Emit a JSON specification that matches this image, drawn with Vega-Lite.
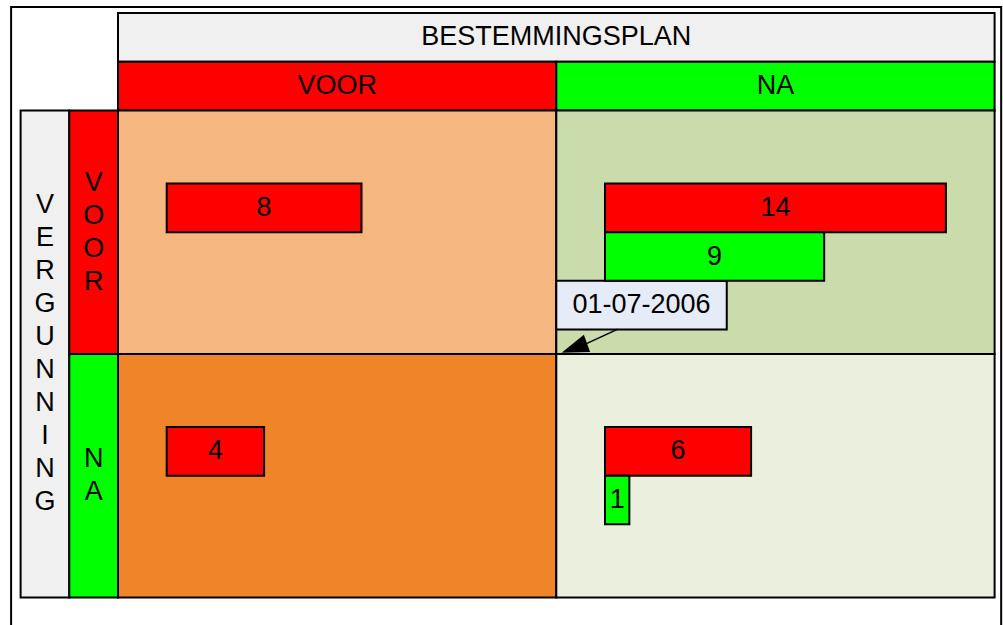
{
  "$schema": "https://vega.github.io/schema/vega-lite/v6.json",
  "width": 1003,
  "height": 625,
  "padding": 0,
  "autosize": {"type": "none"},
  "config": {"view": {"stroke": null}, "text": {"font": "Liberation Sans", "color": "#000000"}},
  "datasets": {
    "balken": [
      {"vergunning": "VOOR", "bestemmingsplan": "VOOR", "kleur": "rood", "aantal": 8},
      {"vergunning": "VOOR", "bestemmingsplan": "NA", "kleur": "rood", "aantal": 14},
      {"vergunning": "VOOR", "bestemmingsplan": "NA", "kleur": "groen", "aantal": 9},
      {"vergunning": "NA", "bestemmingsplan": "VOOR", "kleur": "rood", "aantal": 4},
      {"vergunning": "NA", "bestemmingsplan": "NA", "kleur": "rood", "aantal": 6},
      {"vergunning": "NA", "bestemmingsplan": "NA", "kleur": "groen", "aantal": 1}
    ],
    "vakken": [
      {"deel": "rand", "x0": -4.39, "x1": 36.27, "y0": -0.25, "y1": 26.5},
      {"deel": "kop", "x0": 0, "x1": 36, "y0": 0, "y1": 2},
      {"deel": "rood", "x0": 0, "x1": 18, "y0": 2, "y1": 4},
      {"deel": "groen", "x0": 18, "x1": 36, "y0": 2, "y1": 4},
      {"deel": "grijs", "x0": -4, "x1": -2, "y0": 4, "y1": 24},
      {"deel": "rood", "x0": -2, "x1": 0, "y0": 4, "y1": 14},
      {"deel": "groen", "x0": -2, "x1": 0, "y0": 14, "y1": 24},
      {"deel": "q_vv", "x0": 0, "x1": 18, "y0": 4, "y1": 14},
      {"deel": "q_vn", "x0": 18, "x1": 36, "y0": 4, "y1": 14},
      {"deel": "q_nv", "x0": 0, "x1": 18, "y0": 14, "y1": 24},
      {"deel": "q_nn", "x0": 18, "x1": 36, "y0": 14, "y1": 24},
      {"deel": "label", "x0": 18, "x1": 25, "y0": 11, "y1": 13}
    ],
    "teksten": [
      {"soort": "kop", "tekst": "BESTEMMINGSPLAN", "x": 18, "y": 1},
      {"soort": "kop", "tekst": "VOOR", "x": 9, "y": 3},
      {"soort": "kop", "tekst": "NA", "x": 27, "y": 3},
      {"soort": "vert10", "tekst": "V\nE\nR\nG\nU\nN\nN\nI\nN\nG", "x": -3, "y": 14},
      {"soort": "vert4", "tekst": "V\nO\nO\nR", "x": -1, "y": 9},
      {"soort": "vert2", "tekst": "N\nA", "x": -1, "y": 19},
      {"soort": "datum", "tekst": "01-07-2006", "x": 21.5, "y": 12}
    ],
    "pijl": [{"x": 20.53, "y": 12.98}, {"x": 19.26, "y": 13.57}],
    "pijlpunt": [{"x": 18.74, "y": 13.76}]
  },
  "layer": [
    {
      "layer": [
        {
          "data": {"name": "vakken"},
          "mark": {"type": "rect", "stroke": "#000000", "strokeWidth": 2, "clip": true},
          "encoding": {
            "x": {"field": "x0", "type": "quantitative", "scale": {"domain": [-4.846, 36.345], "nice": false, "zero": false}, "axis": null},
            "x2": {"field": "x1"},
            "y": {"field": "y0", "type": "quantitative", "scale": {"domain": [-0.534, 25.133], "reverse": true, "nice": false, "zero": false}, "axis": null},
            "y2": {"field": "y1"},
            "color": {
              "field": "deel", "type": "nominal",
              "scale": {
                "domain": ["rand", "kop", "grijs", "rood", "groen", "q_vv", "q_vn", "q_nv", "q_nn", "label"],
                "range": ["#ffffff", "#f0f0f0", "#f0f0f0", "#ff0000", "#00ff00", "#f6b67f", "#cadbac", "#f08428", "#eaefde", "#e6ecf7"]
              },
              "legend": null
            }
          }
        },
        {
          "data": {"name": "teksten"},
          "transform": [{"filter": "datum.soort === 'kop'"}],
          "mark": {"type": "text", "fontSize": 27, "align": "center", "baseline": "middle"},
          "encoding": {
            "x": {"field": "x", "type": "quantitative", "scale": {"domain": [-4.846, 36.345], "nice": false, "zero": false}, "axis": null},
            "y": {"field": "y", "type": "quantitative", "scale": {"domain": [-0.534, 25.133], "reverse": true, "nice": false, "zero": false}, "axis": null},
            "text": {"field": "tekst"}
          }
        },
        {
          "data": {"name": "teksten"},
          "transform": [{"filter": "datum.soort === 'vert10'"}],
          "mark": {"type": "text", "fontSize": 27, "align": "center", "baseline": "middle", "lineBreak": "\n", "lineHeight": 33, "dy": -148.5},
          "encoding": {
            "x": {"field": "x", "type": "quantitative", "scale": {"domain": [-4.846, 36.345], "nice": false, "zero": false}, "axis": null},
            "y": {"field": "y", "type": "quantitative", "scale": {"domain": [-0.534, 25.133], "reverse": true, "nice": false, "zero": false}, "axis": null},
            "text": {"field": "tekst"}
          }
        },
        {
          "data": {"name": "teksten"},
          "transform": [{"filter": "datum.soort === 'vert4'"}],
          "mark": {"type": "text", "fontSize": 27, "align": "center", "baseline": "middle", "lineBreak": "\n", "lineHeight": 33, "dy": -49.5},
          "encoding": {
            "x": {"field": "x", "type": "quantitative", "scale": {"domain": [-4.846, 36.345], "nice": false, "zero": false}, "axis": null},
            "y": {"field": "y", "type": "quantitative", "scale": {"domain": [-0.534, 25.133], "reverse": true, "nice": false, "zero": false}, "axis": null},
            "text": {"field": "tekst"}
          }
        },
        {
          "data": {"name": "teksten"},
          "transform": [{"filter": "datum.soort === 'vert2'"}],
          "mark": {"type": "text", "fontSize": 27, "align": "center", "baseline": "middle", "lineBreak": "\n", "lineHeight": 33, "dy": -16.5},
          "encoding": {
            "x": {"field": "x", "type": "quantitative", "scale": {"domain": [-4.846, 36.345], "nice": false, "zero": false}, "axis": null},
            "y": {"field": "y", "type": "quantitative", "scale": {"domain": [-0.534, 25.133], "reverse": true, "nice": false, "zero": false}, "axis": null},
            "text": {"field": "tekst"}
          }
        },
        {
          "data": {"name": "teksten"},
          "transform": [{"filter": "datum.soort === 'datum'"}],
          "mark": {"type": "text", "fontSize": 27, "align": "center", "baseline": "middle"},
          "encoding": {
            "x": {"field": "x", "type": "quantitative", "scale": {"domain": [-4.846, 36.345], "nice": false, "zero": false}, "axis": null},
            "y": {"field": "y", "type": "quantitative", "scale": {"domain": [-0.534, 25.133], "reverse": true, "nice": false, "zero": false}, "axis": null},
            "text": {"field": "tekst"}
          }
        },
        {
          "data": {"name": "pijl"},
          "mark": {"type": "line", "stroke": "#000000", "strokeWidth": 1.5},
          "encoding": {
            "x": {"field": "x", "type": "quantitative", "scale": {"domain": [-4.846, 36.345], "nice": false, "zero": false}, "axis": null},
            "y": {"field": "y", "type": "quantitative", "scale": {"domain": [-0.534, 25.133], "reverse": true, "nice": false, "zero": false}, "axis": null}
          }
        },
        {
          "data": {"name": "pijlpunt"},
          "mark": {"type": "point", "shape": "M0,-1L0.68,1L-0.68,1Z", "filled": true, "fill": "#000000", "stroke": null, "opacity": 1, "size": 729, "angle": 250},
          "encoding": {
            "x": {"field": "x", "type": "quantitative", "scale": {"domain": [-4.846, 36.345], "nice": false, "zero": false}, "axis": null},
            "y": {"field": "y", "type": "quantitative", "scale": {"domain": [-0.534, 25.133], "reverse": true, "nice": false, "zero": false}, "axis": null}
          }
        }
      ]
    },
    {
      "data": {"name": "balken"},
      "layer": [
        {
          "transform": [{"filter": "datum.bestemmingsplan === 'VOOR'"}],
          "mark": {"type": "bar", "stroke": "#000000", "strokeWidth": 2},
          "encoding": {
            "x": {"field": "aantal", "type": "quantitative", "scale": {"domain": [-6.846, 34.345], "nice": false, "zero": false}, "axis": null},
            "x2": {"datum": 0},
            "y": {"field": "vergunning", "type": "nominal", "scale": {"domain": ["VOOR", "NA"], "paddingInner": 0, "paddingOuter": 0.28337, "align": 0.8}, "axis": null},
            "yOffset": {"field": "kleur", "type": "nominal", "scale": {"domain": ["boven", "rood", "groen", "onder"], "paddingInner": 0, "paddingOuter": 0.5}},
            "color": {"field": "kleur", "type": "nominal", "scale": {"domain": ["rood", "groen"], "range": ["#ff0000", "#00ff00"]}, "legend": null}
          }
        },
        {
          "transform": [{"filter": "datum.bestemmingsplan === 'VOOR'"}],
          "mark": {"type": "text", "fontSize": 27, "align": "center", "baseline": "middle"},
          "encoding": {
            "x": {"field": "aantal", "type": "quantitative", "scale": {"domain": [-13.692, 68.69], "nice": false, "zero": false}, "axis": null},
            "y": {"field": "vergunning", "type": "nominal", "scale": {"domain": ["VOOR", "NA"], "paddingInner": 0, "paddingOuter": 0.28337, "align": 0.8}, "axis": null},
            "yOffset": {"field": "kleur", "type": "nominal", "scale": {"domain": ["boven", "rood", "groen", "onder"], "paddingInner": 0, "paddingOuter": 0.5}},
            "text": {"field": "aantal"}
          }
        },
        {
          "transform": [{"filter": "datum.bestemmingsplan === 'NA'"}],
          "mark": {"type": "bar", "stroke": "#000000", "strokeWidth": 2},
          "encoding": {
            "x": {"field": "aantal", "type": "quantitative", "scale": {"domain": [-24.846, 16.345], "nice": false, "zero": false}, "axis": null},
            "x2": {"datum": 0},
            "y": {"field": "vergunning", "type": "nominal", "scale": {"domain": ["VOOR", "NA"], "paddingInner": 0, "paddingOuter": 0.28337, "align": 0.8}, "axis": null},
            "yOffset": {"field": "kleur", "type": "nominal", "scale": {"domain": ["boven", "rood", "groen", "onder"], "paddingInner": 0, "paddingOuter": 0.5}},
            "color": {"field": "kleur", "type": "nominal", "scale": {"domain": ["rood", "groen"], "range": ["#ff0000", "#00ff00"]}, "legend": null}
          }
        },
        {
          "transform": [{"filter": "datum.bestemmingsplan === 'NA'"}],
          "mark": {"type": "text", "fontSize": 27, "align": "center", "baseline": "middle"},
          "encoding": {
            "x": {"field": "aantal", "type": "quantitative", "scale": {"domain": [-49.692, 32.69], "nice": false, "zero": false}, "axis": null},
            "y": {"field": "vergunning", "type": "nominal", "scale": {"domain": ["VOOR", "NA"], "paddingInner": 0, "paddingOuter": 0.28337, "align": 0.8}, "axis": null},
            "yOffset": {"field": "kleur", "type": "nominal", "scale": {"domain": ["boven", "rood", "groen", "onder"], "paddingInner": 0, "paddingOuter": 0.5}},
            "text": {"field": "aantal"}
          }
        }
      ],
      "resolve": {"scale": {"x": "independent"}}
    }
  ],
  "resolve": {"scale": {"x": "independent", "y": "independent", "color": "independent"}}
}
